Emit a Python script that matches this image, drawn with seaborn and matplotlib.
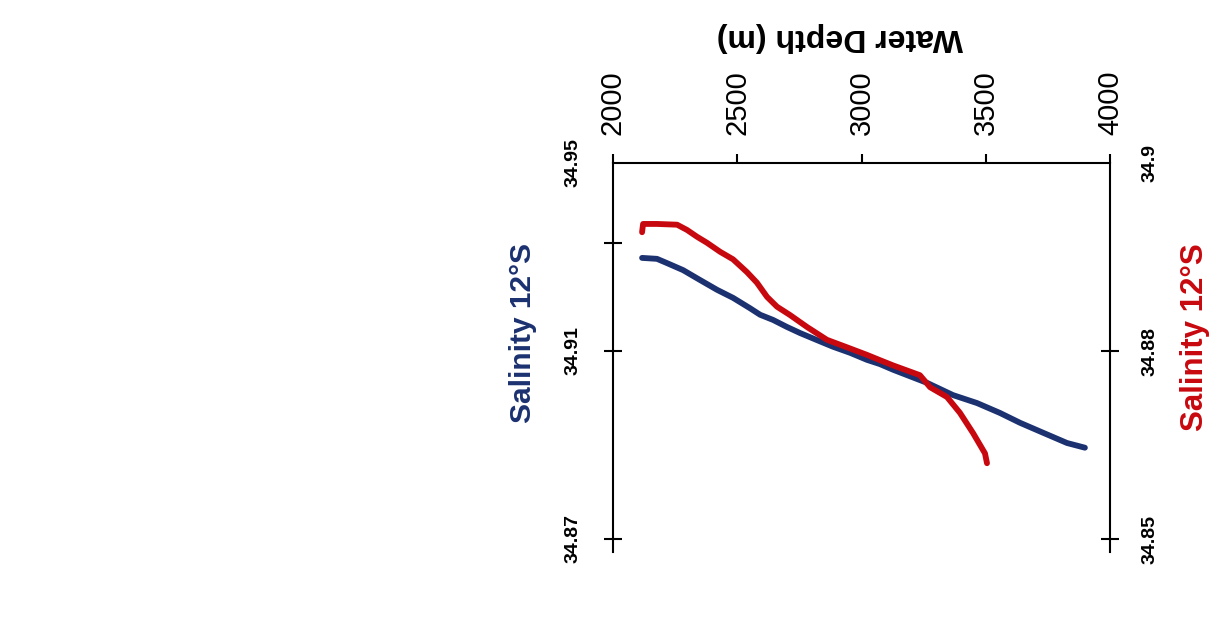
import matplotlib
matplotlib.use("Agg")
import matplotlib.pyplot as plt
import pandas as pd
import seaborn as sns

# CTD salinity profiles at 12°S (two casts), depth in metres
depth_blue = [2117, 2177, 2217, 2282, 2350, 2419, 2483, 2551, 2592, 2644, 2700,
              2753, 2821, 2885, 2954, 3022, 3074, 3127, 3264, 3368, 3465, 3557,
              3638, 3730, 3827, 3899]
sal_blue = [34.9298, 34.9296, 34.9287, 34.9272, 34.9251, 34.9230, 34.9213,
            34.9191, 34.9177, 34.9166, 34.9151, 34.9138, 34.9123, 34.9109,
            34.9096, 34.9081, 34.9072, 34.9060, 34.9032, 34.9006, 34.8989,
            34.8968, 34.8947, 34.8926, 34.8904, 34.8894]

depth_red = [2117, 2121, 2177, 2258, 2298, 2338, 2378, 2431, 2483, 2539, 2579,
             2620, 2660, 2712, 2781, 2861, 2942, 3022, 3074, 3127, 3235, 3276,
             3344, 3396, 3449, 3497, 3505]
sal_red = [34.8908, 34.8919, 34.8919, 34.8918, 34.8911, 34.8902, 34.8894,
           34.8882, 34.8872, 34.8855, 34.8841, 34.8822, 34.8809, 34.8798,
           34.8782, 34.8765, 34.8755, 34.8745, 34.8738, 34.8731, 34.8718,
           34.8702, 34.8689, 34.8668, 34.8641, 34.8614, 34.8601]

depth_ticks = [2000, 2500, 3000, 3500, 4000]
left_ticks = [34.87, 34.91, 34.933, 34.95]
left_labels = ["34.87", "34.91", "", "34.95"]
right_ticks = [34.85, 34.875, 34.9]
right_labels = ["34.85", "34.88", "34.9"]

BLUE = "#1b3170"
RED = "#c8080f"

sns.set_style("white")
plt.rcParams["font.family"] = ["Liberation Sans", "DejaVu Sans"]
plt.rcParams["text.color"] = "black"
plt.rcParams["xtick.color"] = "black"
plt.rcParams["ytick.color"] = "black"

fig = plt.figure(figsize=(12.17, 6.34), dpi=100)
ax = fig.add_axes([613 / 1217, 82 / 634, 497 / 1217, 389 / 634])
ax2 = ax.twinx()

blue_df = pd.DataFrame({"depth": depth_blue, "salinity": sal_blue})
red_df = pd.DataFrame({"depth": depth_red, "salinity": sal_red})

sns.lineplot(data=blue_df, x="depth", y="salinity", ax=ax, color=BLUE,
             lw=4.2, estimator=None, sort=False)
sns.lineplot(data=red_df, x="depth", y="salinity", ax=ax2, color=RED,
             lw=4.2, estimator=None, sort=False)

ax.set_xlim(2000, 4000)
ax.set_ylim(34.8672, 34.95)
ax2.set_ylim(34.8483, 34.9)
ax.set_xlabel("")
ax.set_ylabel("")
ax2.set_ylabel("")

for a in (ax, ax2):
    for side in ("top", "bottom", "left", "right"):
        a.spines[side].set_visible(False)
        a.spines[side].set_linewidth(1.5)
        a.spines[side].set_color("black")
ax.spines["top"].set_visible(True)
ax.spines["left"].set_visible(True)
ax2.spines["right"].set_visible(True)

# depth axis along the top, labels turned sideways
ax.xaxis.tick_top()
ax.set_xticks(depth_ticks, labels=[str(d) for d in depth_ticks],
              fontsize=21, rotation=90, color="black")
ax.tick_params(axis="x", direction="out", length=6.5, width=1.5, pad=13.5,
               top=True, bottom=False, labeltop=True, labelbottom=False,
               colors="black")

ax.set_yticks(left_ticks, labels=left_labels, fontsize=14, fontweight="bold",
              rotation=90, va="center", color="black")
ax.tick_params(axis="y", direction="inout", length=13, width=1.5, pad=16.5,
               left=True, right=False, colors="black")
ax2.set_yticks(right_ticks, labels=right_labels, fontsize=14,
               fontweight="bold", rotation=90, va="center", color="black")
ax2.tick_params(axis="y", direction="inout", length=13, width=1.5, pad=16.5,
                right=True, left=False, colors="black")

# no tick marks at the top corners
ax.yaxis.get_major_ticks()[3].tick1line.set_visible(False)
ax2.yaxis.get_major_ticks()[2].tick2line.set_visible(False)

fig.text(840 / 1217, 1 - 37 / 634, "Water Depth (m)", rotation=180,
         fontsize=23, fontweight="bold", color="black", ha="center",
         va="center")
fig.text(523 / 1217, 1 - 333 / 634, "Salinity 12°S", rotation=90,
         fontsize=21.5, fontweight="bold", color=BLUE, ha="center",
         va="center")
fig.text(1195 / 1217, 1 - 337 / 634, "Salinity 12°S", rotation=90,
         fontsize=22.5, fontweight="bold", color=RED, ha="center",
         va="center")

fig.savefig("out.png", dpi=100, facecolor="white")
